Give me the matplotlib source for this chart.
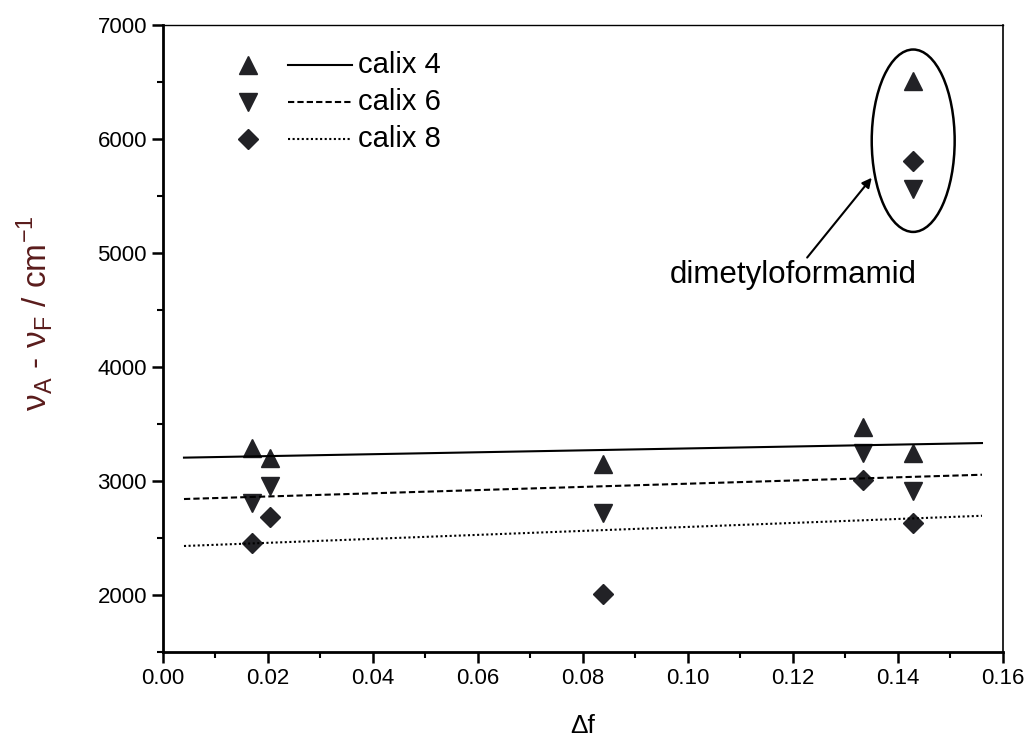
import matplotlib.pyplot as plt
from matplotlib.patches import Ellipse
from matplotlib.ticker import MultipleLocator

plt.rcParams['font.family'] = ['Liberation Sans', 'DejaVu Sans']

# data
delta_f = [0.0169, 0.0204, 0.0839, 0.1334, 0.1429]
calix4 = [3290, 3205, 3150, 3475, 3250]
calix6 = [2805, 2960, 2720, 3250, 2910]
calix8 = [2455, 2680, 2010, 3005, 2635]

# dimetyloformamid points (outliers, circled)
dmf_x = 0.1429
dmf4 = 6505
dmf6 = 5565
dmf8 = 5805

# fitted lines (end points)
fit_x = [0.004, 0.156]
fit4 = [3205, 3333]
fit6 = [2842, 3055]
fit8 = [2430, 2695]

fig = plt.figure(figsize=(10.27, 7.40), dpi=100)
ax = fig.add_axes([0.1587, 0.1189, 0.8179, 0.8473])

mk = dict(color='#222226', linestyle='none')
ax.plot(delta_f + [dmf_x], calix4 + [dmf4], marker='^', markersize=13, **mk)
ax.plot(delta_f + [dmf_x], calix6 + [dmf6], marker='v', markersize=13, **mk)
ax.plot(delta_f + [dmf_x], calix8 + [dmf8], marker='D', markersize=10, **mk)

ax.plot(fit_x, fit4, color='black', linestyle='-', linewidth=1.5)
ax.plot(fit_x, fit6, color='black', linestyle=(0, (3, 1.5)), linewidth=1.5)
ax.plot(fit_x, fit8, color='black', linestyle=(0, (1, 1.2)), linewidth=1.5)

# legend drawn by hand, like the original
leg_y = [6650, 6325, 6000]
styles = ['-', (0, (3, 1.5)), (0, (1, 1.2))]
markers = ['^', 'v', 'D']
msizes = [13, 13, 10]
labels = ['calix 4', 'calix 6', 'calix 8']
for y, ls, m, ms, lab in zip(leg_y, styles, markers, msizes, labels):
    ax.plot([0.0162], [y], marker=m, markersize=ms, **mk)
    ax.plot([0.0238, 0.0360], [y, y], color='black', linestyle=ls, linewidth=1.5)
    ax.text(0.0371, y, lab, fontsize=21, va='center', ha='left')

ax.add_patch(Ellipse((0.1429, 5985), 0.0158, 1600, fill=False,
                     edgecolor='black', linewidth=1.8))
ax.annotate('', xy=(0.1350, 5660), xytext=(0.1227, 4960),
            arrowprops=dict(arrowstyle='-|>', color='black', lw=1.5,
                            mutation_scale=14, shrinkA=0, shrinkB=0))
ax.text(0.1200, 4810, 'dimetyloformamid', fontsize=22.5, ha='center', va='center')

ax.set_xlim(0, 0.16)
ax.set_ylim(1500, 7000)
ax.xaxis.set_major_locator(MultipleLocator(0.02))
ax.xaxis.set_minor_locator(MultipleLocator(0.01))
ax.yaxis.set_major_locator(MultipleLocator(1000))
ax.yaxis.set_minor_locator(MultipleLocator(500))
ax.set_yticks([2000, 3000, 4000, 5000, 6000, 7000])
ax.xaxis.set_major_formatter(plt.FormatStrFormatter('%.2f'))

ax.tick_params(which='major', direction='out', length=8, width=1.8, labelsize=16)
ax.tick_params(which='minor', direction='out', length=4, width=1.5)
ax.spines['left'].set_linewidth(2)
ax.spines['bottom'].set_linewidth(2)
ax.spines['top'].set_linewidth(1)
ax.spines['right'].set_linewidth(1.2)

ax.set_xlabel('Δf', fontsize=19, labelpad=18)
ax.set_ylabel(r'ν$_{\mathregular{A}}$ - ν$_{\mathregular{F}}$ / cm$^{\mathregular{-1}}$',
              fontsize=24, color='#5a1c1c')
ax.yaxis.set_label_coords(-0.129, 0.54)

fig.savefig('out.png', dpi=100)
